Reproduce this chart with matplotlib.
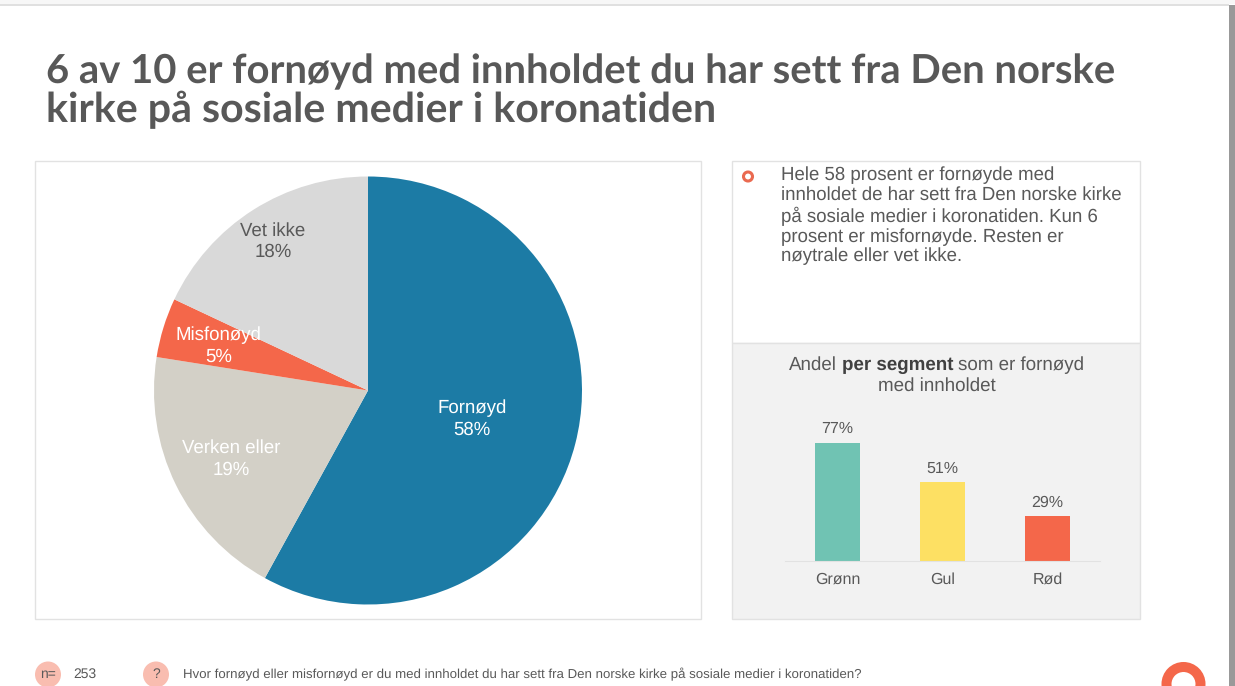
import matplotlib
matplotlib.use('Agg')
import matplotlib.pyplot as plt
from matplotlib.patches import Rectangle, Circle

W, H = 1235, 686

title_lines = ['6 av 10 er fornøyd med innholdet du har sett fra Den norske',
               'kirke på sosiale medier i koronatiden']
pie_labels = ['Fornøyd', 'Verken eller', 'Misfonøyd', 'Vet ikke']
pie_values = [58, 19.5, 4.5, 18]
pie_printed = ['58%', '19%', '5%', '18%']
pie_colors = ['#1c7ba5', '#d3d0c7', '#f4674a', '#d9d9d9']
pie_text = ['white', 'white', 'white', '#595959']

segments = ['Grønn', 'Gul', 'Rød']
segment_values = [77, 51, 29]
segment_colors = ['#70c3b3', '#fde063', '#f4674a']

body = ('Hele 58 prosent er fornøyde med\ninnholdet de har sett fra Den norske kirke\n'
        'på sosiale medier i koronatiden. Kun 6\nprosent er misfornøyde. Resten er\n'
        'nøytrale eller vet ikke.')
question = 'Hvor fornøyd eller misfornøyd er du med innholdet du har sett fra Den norske kirke på sosiale medier i koronatiden?'
n_resp = '253'

plt.rcParams['font.family'] = ['Liberation Sans', 'DejaVu Sans']
plt.rcParams['text.hinting'] = 'no_hinting'
grey = '#595959'


def axes_px(x0, y0, x1, y1):
  # pixel box (y from the top) to figure axes
  return fig.add_axes([x0 / W, 1 - y1 / H, (x1 - x0) / W, (y1 - y0) / H])


fig = plt.figure(figsize=(W / 100, H / 100), dpi=100)

# page, drawn in pixel coordinates
bg = axes_px(0, 0, W, H)
bg.set_xlim(0, W)
bg.set_ylim(H, 0)
bg.axis('off')
bg.add_patch(Rectangle((0, 0), W, 4, fc='#f7f7f7', ec='none'))
bg.add_patch(Rectangle((0, 4), 1229, 1.5, fc='#e0e0e0', ec='none'))
bg.add_patch(Rectangle((1229, 5), 6, H - 5, fc='#999999', ec='none'))
bg.add_patch(Rectangle((34.7, 160.7), 666, 458, fc='white', ec='#e2e2e2', lw=1))
bg.add_patch(Rectangle((731.7, 160.7), 408, 182, fc='white', ec='#e2e2e2', lw=1))
bg.add_patch(Rectangle((731.7, 342.7), 408, 276, fc='#f2f2f2', ec='#e2e2e2', lw=1))

# two sizes so both title lines keep the reference widths in this font
bg.text(46, 83, title_lines[0], fontsize=28.8, fontweight='bold', family='Lato', color='#585858',
        va='baseline', ha='left')
bg.text(46, 122, title_lines[1], fontsize=29.6, fontweight='bold', family='Lato', color='#585858',
        va='baseline', ha='left')

bg.add_patch(Circle((748, 176.5), 4.5, fc='white', ec='#ea6a50', lw=2.2))
bg.text(781, 216, body, fontsize=13.45, color=grey, va='center', ha='left', linespacing=1.155)

bg.text(789, 365, 'Andel', fontsize=13.5, color=grey, ha='left', va='center')
bg.text(842, 365, 'per segment', fontsize=13.5, color='#404040', fontweight='bold', ha='left', va='center')
bg.text(958, 365, 'som er fornøyd', fontsize=13.5, color=grey, ha='left', va='center')
bg.text(936.5, 386, 'med innholdet', fontsize=13.5, color=grey, ha='center', va='center')

# footer
bg.add_patch(Circle((48, 674.5), 13, fc='#f9bdb0', ec='none'))
bg.text(48, 674.5, 'n=', fontsize=10, color=grey, ha='center', va='center')
bg.text(73, 674.5, n_resp, fontsize=10, color=grey, ha='left', va='center')
bg.add_patch(Circle((156, 674.5), 13, fc='#f9bdb0', ec='none'))
bg.text(156, 674.5, '?', fontsize=10, color=grey, ha='center', va='center')
bg.text(183, 674.5, question, fontsize=9.55, color=grey, ha='left', va='center')
bg.add_patch(Circle((1183.5, 684), 17, fc='white', ec='#f4674a', lw=7.2))

# pie
R = 214
pie_ax = axes_px(368 - R, 390.5 - R, 368 + R, 390.5 + R)
wedges, _ = pie_ax.pie(pie_values, colors=pie_colors, startangle=90, counterclock=False, radius=1,
                       wedgeprops={'linewidth': 0})
pie_ax.set_xlim(-1, 1)
pie_ax.set_ylim(-1, 1)
label_pos = [(472, 419), (231, 459), (218.5, 346), (273, 241.5)]
for name, pct, col, (px, py) in zip(pie_labels, pie_printed, pie_text, label_pos):
  pie_ax.text((px - 368) / R, (390.5 - py) / R, f'{name}\n{pct}', color=col, fontsize=13.4,
              ha='center', va='center', linespacing=1.28)

# segment bars
bar_ax = axes_px(785, 407.5, 1100, 560.5)
bar_ax.patch.set_alpha(0)
bars = bar_ax.bar(segments, segment_values, color=segment_colors, width=0.43)
bar_ax.set_xlim(-0.5, 2.5)
bar_ax.set_ylim(0, 100)
bar_ax.bar_label(bars, labels=[f'{v}%' for v in segment_values], padding=4.5, fontsize=11.5, color=grey)
bar_ax.set_yticks([])
for side in ['top', 'left', 'right']:
  bar_ax.spines[side].set_visible(False)
bar_ax.spines['bottom'].set_color('#e2e2e2')
bar_ax.tick_params(axis='x', length=0, pad=8.5, labelsize=11.5, labelcolor=grey)

fig.savefig('out.png', dpi=100)
